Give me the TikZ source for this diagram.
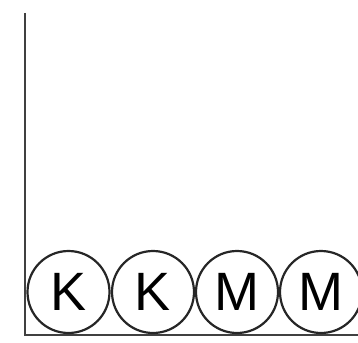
\documentclass[tikz,border=0pt]{standalone}
\usepackage{fontspec}
\setmainfont{Liberation Sans}
\begin{document}
\begin{tikzpicture}[x=1pt,y=-1pt,
  ball/.style={circle,draw=black!85,line width=2.2pt,minimum size=82pt,inner sep=0pt,font=\fontsize{54}{54}\selectfont},
  axis/.style={draw=black!75,line width=2.2pt}]
\useasboundingbox (0,0) rectangle (358,342);
\coordinate (top) at (25,13);
\coordinate (origin) at (25,335);
\coordinate (right) at (360,335);
\draw[axis] (top) -- (origin) -- (right);
\node[ball] (k1) at (68.5,292) {K};
\node[ball] (k2) at (153,292) {K};
\node[ball] (m1) at (237,292) {M};
\node[ball] (m2) at (321,292) {M};
\end{tikzpicture}
\end{document}
